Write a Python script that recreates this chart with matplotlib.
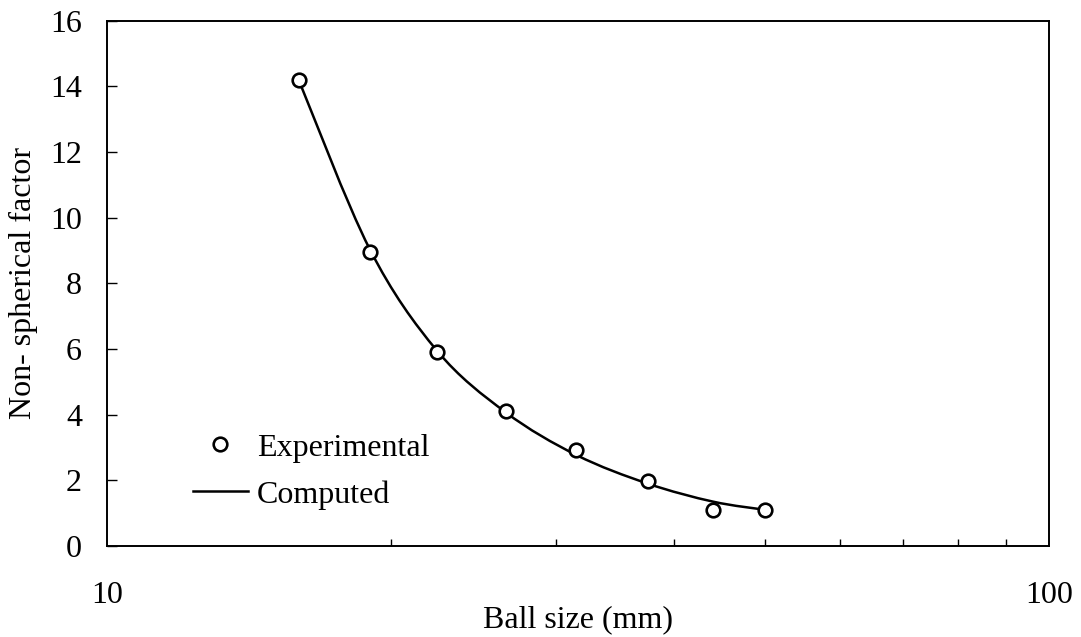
import numpy as np
import matplotlib.pyplot as plt
from matplotlib.path import Path
from matplotlib.patches import PathPatch
from matplotlib.lines import Line2D
from matplotlib.ticker import FixedLocator, NullFormatter

# Non-spherical factor vs ball size (mm)
ball_size = [16, 19, 22.4, 26.5, 31.5, 37.5, 44, 50]
factor_exp = [14.2, 8.95, 5.9, 4.1, 2.93, 1.98, 1.1, 1.1]
factor_calc = [14.15, 9.05, 5.95, 4.07, 2.77, 1.90, 1.35, 1.10]

plt.rcParams['font.family'] = ['Liberation Serif', 'DejaVu Serif']
FS = 23


def smooth_path(xs, ys):
    # spreadsheet-style smoothed line: cubic Bezier segments with
    # Catmull-Rom control points, built in log-x space
    u = np.log10(xs)
    y = np.asarray(ys, dtype=float)
    n = len(u)
    verts = [(xs[0], y[0])]
    codes = [Path.MOVETO]
    for i in range(n - 1):
        i0 = max(i - 1, 0)
        i3 = min(i + 2, n - 1)
        c1u = u[i] + (u[i + 1] - u[i0]) / 6
        c1y = y[i] + (y[i + 1] - y[i0]) / 6
        c2u = u[i + 1] - (u[i3] - u[i]) / 6
        c2y = y[i + 1] - (y[i3] - y[i]) / 6
        verts += [(10 ** c1u, c1y), (10 ** c2u, c2y), (xs[i + 1], y[i + 1])]
        codes += [Path.CURVE4] * 3
    return Path(verts, codes)


fig = plt.figure(figsize=(10.81, 6.37), dpi=100)
ax = fig.add_axes([0.099, 0.1429, 0.8714, 0.8246])

ax.plot(ball_size, factor_exp, 'o', mfc='white', mec='black', ms=9.8, mew=1.9,
        ls='none', zorder=3)
ax.add_patch(PathPatch(smooth_path(ball_size, factor_calc), fill=False,
                       edgecolor='black', lw=1.8, zorder=2))

ax.set_xscale('log')
ax.set_xlim(10, 100)
ax.set_ylim(0, 16)
ax.set_yticks(np.arange(0, 17, 2))
ax.xaxis.set_major_locator(FixedLocator([10, 100]))
ax.set_xticklabels(['10', '100'])
ax.xaxis.set_minor_locator(FixedLocator(np.arange(20, 100, 10)))
ax.xaxis.set_minor_formatter(NullFormatter())

ax.tick_params(axis='x', which='major', direction='in', length=0, pad=25,
               labelsize=FS)
ax.tick_params(axis='x', which='minor', direction='in', length=5, width=1)
ax.tick_params(axis='y', which='major', direction='in', length=7, width=1,
               pad=18, labelsize=FS)

for s in ax.spines.values():
    s.set_linewidth(1.4)

ax.set_xlabel('Ball size (mm)', fontsize=FS, labelpad=-3)
ax.set_ylabel('Non- spherical factor', fontsize=FS, labelpad=9)

handles = [
    Line2D([], [], marker='o', ls='none', mfc='white', mec='black', ms=9.8,
           mew=1.9),
    Line2D([], [], color='black', lw=1.8),
]
ax.legend(handles, ['Experimental', 'Computed'], loc='center left',
          bbox_to_anchor=(0.091, 0.142), frameon=False, fontsize=FS,
          numpoints=1, handlelength=1.72, handletextpad=0.28,
          labelspacing=0.55, borderpad=0, borderaxespad=0)

fig.savefig('out.png', dpi=100)
